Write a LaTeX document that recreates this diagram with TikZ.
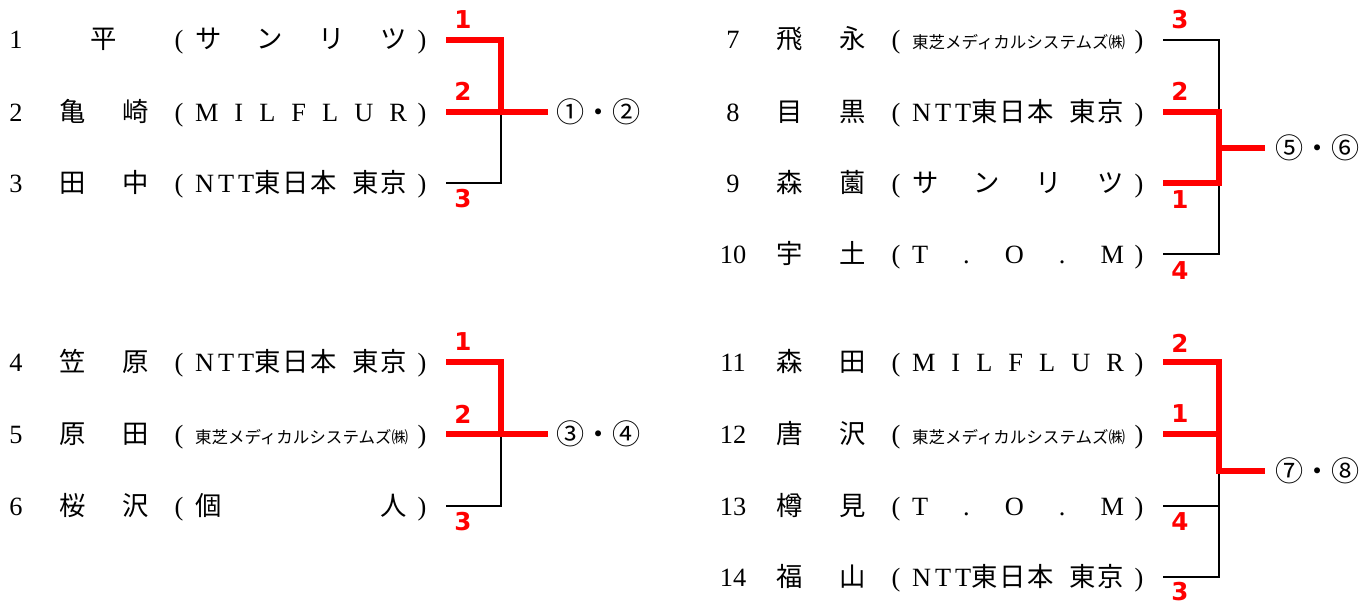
\documentclass[tikz,border=0pt]{standalone}
\usepackage{fontspec}
\setmainfont{Liberation Serif}
\newfontfamily\jp{Noto Sans CJK JP}
\newfontfamily\rankfont{DejaVu Sans}
\usetikzlibrary{positioning}
\tikzset{
    every node/.style={inner sep=0pt, outer sep=0pt},
    entry/.style={font=\fontsize{15}{18}\selectfont, anchor=base},
    rank/.style={font=\rankfont\bfseries\fontsize{14}{16}\selectfont, text=red},
    seed/.style={font=\jp\fontsize{16}{18}\selectfont, anchor=west},
    lost/.style={draw=black, line width=1.6pt},
    won/.style={draw=red, line width=3.1pt}
}
% one line of the draw: id, x shift, y of its line, number, name, club
\newcommand{\player}[6]{%
    \node[entry] (n#1) at (#2+16,#3+9) {#4};
    \node[entry] (m#1) at (#2+104,#3+9) {\jp\makebox[18mm][s]{#5}};
    \node[entry] (l#1) at (#2+179,#3+9) {(};
    \node[entry] (c#1) at (#2+301,#3+9) {\makebox[42.4mm][s]{#6}};
    \node[entry] (r#1) at (#2+422,#3+9) {)};
    \coordinate (e#1) at (#2+446,#3);
}
\newcommand{\sanritsu}{\jp サ\hfil ン\hfil リ\hfil ツ}
\newcommand{\milflur}{M\hfil I\hfil L\hfil F\hfil L\hfil U\hfil R}
\newcommand{\ntt}{N\hspace{0.8mm}T\hspace{0.8mm}T{\jp 東\hspace{0.4mm}日\hspace{0.4mm}本}\hfil{\jp 東\hspace{0.4mm}京}}
\newcommand{\toshiba}{\hfil\jp\fontsize{9.4}{10}\selectfont 東芝メディカルシステムズ㈱\hfil}
\newcommand{\tom}{T\hfil .\hfil O\hfil .\hfil M}

\begin{document}
\begin{tikzpicture}[x=0.02cm,y=-0.02cm]
	\useasboundingbox (0,0) rectangle (1370,605);
	\player{1}{0}{40}{1}{\hfil 平\hfil}{\sanritsu}
	\player{2}{0}{112}{2}{亀\hfil 崎}{\milflur}
	\player{3}{0}{183}{3}{田\hfil 中}{\ntt}
	\player{4}{0}{362}{4}{笠\hfil 原}{\ntt}
	\player{5}{0}{434}{5}{原\hfil 田}{\toshiba}
	\player{6}{0}{506}{6}{桜\hfil 沢}{\jp 個\hfil 人}
	\player{7}{717}{40}{7}{飛\hfil 永}{\toshiba}
	\player{8}{717}{112}{8}{目\hfil 黒}{\ntt}
	\player{9}{717}{183}{9}{森\hfil 薗}{\sanritsu}
	\player{10}{717}{254}{10}{宇\hfil 土}{\tom}
	\player{11}{717}{362}{11}{森\hfil 田}{\milflur}
	\player{12}{717}{434}{12}{唐\hfil 沢}{\toshiba}
	\player{13}{717}{506}{13}{樽\hfil 見}{\tom}
	\player{14}{717}{577}{14}{福\hfil 山}{\ntt}
	% junctions and winners
	\coordinate (ja) at (501,112);
	\coordinate (jb) at (1219,148);
	\coordinate (kb) at (1219,183);
	\coordinate (bb) at (1219,254);
	\coordinate (jc) at (501,434);
	\coordinate (jd) at (1219,471);
	\node[seed] (sa) at (556,112) {①・②};
	\node[seed] (sb) at (1275,148) {⑤・⑥};
	\node[seed] (sc) at (556,434) {③・④};
	\node[seed] (sd) at (1275,471) {⑦・⑧};
	\coordinate (wa) at (548,112);
	\coordinate (wb) at (1265,148);
	\coordinate (wc) at (548,434);
	\coordinate (wd) at (1265,471);
	% bracket lines
	\draw[lost] (e3) -| (ja);
	\draw[lost] (e7) -| (bb) -- (e10);
	\draw[lost] (e6) -| (jc);
	\draw[lost] (e14) -| (jd);
	\draw[lost] (e13) -- (e13 -| jd);
	\draw[won] (e1) -| (ja) -- (wa);
	\draw[won] (e2) -- (ja);
	\draw[won] (e8) -| (kb) -- (e9);
	\draw[won] (jb) -- (wb);
	\draw[won] (e4) -| (jc) -- (wc);
	\draw[won] (e5) -- (jc);
	\draw[won] (e11) -| (jd) -- (wd);
	\draw[won] (e12) -- (e12 -| jd);
	% placings
	\node[rank] (k1) at (463,20) {1};
	\node[rank] (k2) at (463,91) {2};
	\node[rank] (k3) at (463,199) {3};
	\node[rank] (k4) at (463,342) {1};
	\node[rank] (k5) at (463,414) {2};
	\node[rank] (k6) at (463,522) {3};
	\node[rank] (k7) at (1180,20) {3};
	\node[rank] (k8) at (1180,91) {2};
	\node[rank] (k9) at (1180,200) {1};
	\node[rank] (k10) at (1180,271) {4};
	\node[rank] (k11) at (1180,343) {2};
	\node[rank] (k12) at (1180,414) {1};
	\node[rank] (k13) at (1180,522) {4};
	\node[rank] (k14) at (1180,592) {3};
\end{tikzpicture}
\end{document}
